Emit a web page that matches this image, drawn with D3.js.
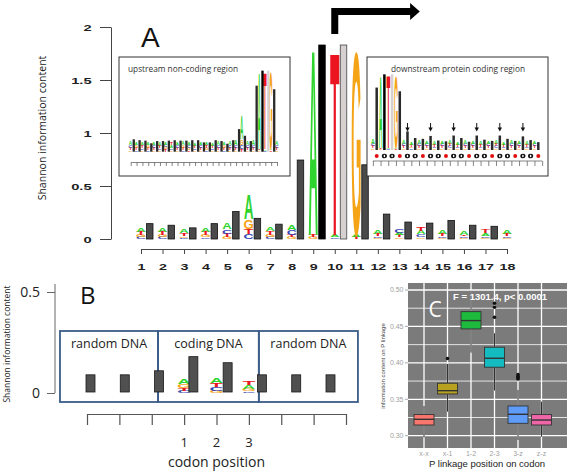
<!DOCTYPE html>
<html><head><meta charset="utf-8">
<script src="https://cdn.jsdelivr.net/npm/d3@7"></script>
<style>body{margin:0;background:#fff}svg{display:block}</style>
</head><body>
<svg id="chart" width="567" height="474"></svg>
<script>
// ================= DATA =================
// Panel A : main sequence logo around the start codon
const positionsA = ["1","2","3","4","5","6","7","8","9","10","11","12","13","14","15","16","17","18"];
const barsA = [0.145,0.13,0.105,0.145,0.26,0.195,0.14,0.745,1.83,1.83,0.70,0.235,0.16,0.15,0.175,0.13,0.12,null];
const logosA = [
  {A:.04,T:.03,G:.02,C:.018},
  {A:.04,T:.03,G:.02,C:.018},
  {A:.035,T:.025,G:.015,C:.014},
  {A:.035,T:.03,G:.02,C:.016},
  {A:.06,C:.04,T:.03,G:.02},
  {A:.24,G:.09,T:.05,C:.045},
  {A:.04,T:.03,G:.022,C:.02},
  {A:.05,C:.045,T:.022,G:.02},
  {A:1.79,G:.02,T:.02},
  {T:1.77,A:.02,C:.015},
  {G:1.76,A:.025,T:.02},
  {A:.03,T:.02,C:.015,G:.012},
  {C:.04,A:.025,T:.02,G:.015},
  {T:.035,A:.03,C:.028,G:.015},
  {A:.035,T:.02,C:.015,G:.012},
  {A:.03,T:.015,C:.014,G:.01},
  {T:.03,A:.028,C:.015,G:.01},
  {A:.035,T:.02,C:.015,G:.01}
];
const yTicksA = [0,0.5,1,1.5,2];
const yTickLabelsA = ["0","0.5","1","1.5","2"];

// Inset : upstream non-coding region
const barsUp = [0.28,0.26,0.25,0.19,0.24,0.24,0.25,0.26,0.25,0.25,0.26,0.26,0.21,0.21,0.26,0.24,0.18,0.26,0.51,0.36,0.24,1.49,1.83,1.83,1.41];
const logosUp = [
  {A:.08,T:.05,C:.05,G:.04},{A:.07,T:.05,G:.05,C:.04},{A:.07,T:.06,G:.04,C:.04},{A:.06,T:.05,G:.05,C:.04},
  {A:.07,T:.05,C:.05,G:.04},{A:.08,T:.05,G:.04,C:.04},{A:.07,T:.05,G:.05,C:.05},{A:.06,T:.06,G:.04,C:.04},
  {A:.07,T:.05,C:.05,G:.04},{A:.08,T:.05,G:.05,C:.04},{A:.07,G:.05,C:.05,T:.04},{A:.06,T:.05,G:.04,C:.04},
  {A:.07,T:.05,C:.05,G:.04},{A:.07,T:.06,G:.05,C:.04},{A:.06,T:.05,G:.04,C:.04},{A:.08,T:.05,C:.05,G:.04},
  {A:.07,T:.05,G:.05,C:.04},{A:.09,T:.05,C:.05,G:.04},{A:.12,C:.07,T:.05,G:.04},{A:.55,G:.12,C:.09,T:.07},
  {A:.09,T:.05,C:.05,G:.04},{A:.12,C:.06,T:.05,G:.04},{A:1.77,G:.03,T:.03},{T:1.78,A:.03,C:.02},
  {G:1.76,A:.04,T:.03},{A:.09,T:.05,C:.05,G:.04}
];

// Inset : downstream protein coding region
const barsDown = [1.51,1.83,1.83,1.42,0.45,0.29,0.27,0.34,0.23,0.21,0.35,0.29,0.20,0.35,0.25,0.22,0.35,0.27,0.22,0.33,0.24,0.19];
const logosDown = [
  {A:.13,T:.05,C:.05,G:.04},{A:1.78,G:.02,T:.02},{T:1.79,C:.02,A:.02},{G:1.77,A:.03,T:.02},
  {A:.08,C:.06,T:.05,G:.04},{A:.07,T:.05,C:.04,G:.04},{A:.08,T:.05,C:.05,G:.04},{A:.07,C:.06,T:.05,G:.04},
  {A:.08,T:.05,G:.04,C:.04},{A:.07,T:.05,C:.05,G:.04},{A:.08,C:.05,T:.05,G:.04},{A:.07,T:.05,G:.04,C:.04},
  {A:.08,T:.05,C:.05,G:.04},{A:.07,C:.06,T:.05,G:.04},{A:.08,T:.05,G:.04,C:.04},{A:.07,T:.05,C:.05,G:.04},
  {A:.08,C:.05,T:.05,G:.04},{A:.07,T:.05,G:.04,C:.04},{A:.08,T:.05,C:.05,G:.04},{A:.07,C:.06,T:.05,G:.04},
  {A:.08,T:.05,G:.04,C:.04},{A:.07,T:.05,C:.05,G:.04}
];
const frameDown = ["r","0","0","r","0","0","r","0","0","r","0","0","r","0","0","r","0","0","r","0","0","r"];
const arrowsDown = [5,8,11,14,17,20];

// Panel B : codon periodicity
const barsB = [0.09,0.09,0.11,0.18,0.15,0.09,0.09,0.09];
const regionsB = ["random DNA","coding DNA","random DNA"];
const regionEdgesB = [0.11,2.97,5.91,8.80];
const logosB = [
  {A:.025,G:.016,T:.015,C:.012},
  {A:.028,T:.02,C:.018,G:.012},
  {T:.022,A:.018,G:.012,C:.008}
];
const logoSlotsB = [4,5,6];
const codonLabelsB = ["1","2","3"];
const yTicksB = [0,0.5];
const yTickLabelsB = ["0","0.5"];

// Panel C : boxplots
const catsC = ["x-x","x-1","1-2","2-3","3-z","z-z"];
const loC  = [0.2978,0.333,0.414,0.362,0.294,0.2987];
const q1C  = [0.3147,0.3573,0.4466,0.394,0.317,0.3147];
const medC = [0.3225,0.3618,0.458,0.4063,0.3294,0.3215];
const q3C  = [0.329,0.372,0.4703,0.4214,0.3408,0.329];
const hiC  = [0.3408,0.3985,0.499,0.4407,0.3628,0.3467];
const outC = [[],[0.406],[],[0.4819,0.4764,0.4626],[0.3838,0.3815,0.3795,0.378],[]];
const yTicksC = [0.30,0.35,0.40,0.45,0.50];
const yTickLabelsC = ["0.30","0.35","0.40","0.45","0.50"];

// ================= DRAWING =================
const svg = d3.select("#chart");
const letterColor = {A:"#2fd42f", C:"#3444b0", G:"#f5a418", T:"#ea1520"};
const letterInk = {A:0.72, C:0.68, G:0.72, T:0.62};

function drawLogo(g, cx, w, y, stack) {
  const entries = Object.entries(stack).sort((a,b)=>a[1]-b[1]);
  let acc = 0;
  entries.forEach(([L,v]) => {
    const y0 = y(acc), y1 = y(acc+v);
    acc += v;
    const h = y0 - y1;
    if (h <= 0.05) return;
    g.append("text").text(L)
      .attr("font-family","Liberation Sans, Arial, sans-serif")
      .attr("font-weight","bold").attr("font-size",100)
      .attr("text-anchor","middle").attr("fill",letterColor[L])
      .attr("transform",`translate(${cx},${y0}) scale(${w/(letterInk[L]*100)},${h/71.6})`);
  });
}
function barStyle(stack) {
  const dom = Object.entries(stack).find(e => e[1] > 1);
  if (dom && dom[0] === "A") return {fill:"#000", stroke:"#000"};
  if (dom && dom[0] === "T") return {fill:"#d6d0d0", stroke:"#444"};
  return {fill:"#4a4a4a", stroke:"#111"};
}

// ---------- Panel A ----------
const xA = d3.scaleLinear().domain([1,18]).range([141,507]);
const yA = d3.scaleLinear().domain([0,2]).range([239,27]);
const gA = svg.append("g");

const yAxA = gA.append("g").attr("transform","translate(111,0)")
  .call(d3.axisLeft(yA).tickValues(yTicksA).tickFormat((d,i)=>yTickLabelsA[i]).tickSize(11).tickSizeOuter(0).tickPadding(1.5));
yAxA.selectAll("text").attr("font-family","Liberation Sans, Arial").attr("font-weight","bold")
  .attr("font-size",9.5).attr("fill","#222").attr("transform","scale(1.55,1)");
yAxA.selectAll("line,path").attr("stroke","#444");

const xAxA = gA.append("g").attr("transform","translate(0,249)")
  .call(d3.axisBottom(xA).tickValues(d3.range(1,19)).tickFormat((d,i)=>positionsA[i]).tickSize(5).tickSizeOuter(0).tickPadding(9));
xAxA.selectAll("text").attr("font-family","Liberation Sans, Arial").attr("font-weight","bold")
  .attr("font-size",9.5).attr("fill","#222").attr("transform","scale(1.5,1)");
xAxA.selectAll("line,path").attr("stroke","#444");

gA.append("text").text("Shannon information content")
  .attr("transform","translate(46,128) rotate(-90)").attr("text-anchor","middle")
  .attr("font-family","Open Sans").attr("font-size",10.5).attr("fill","#222");
gA.append("text").text("A").attr("x",141).attr("y",47)
  .attr("font-family","Liberation Sans, Arial").attr("font-size",28).attr("fill","#111");

// logos and bars
logosA.forEach((s,i) => drawLogo(gA, xA(i+1), 9.5, yA, s));
barsA.forEach((v,i) => {
  if (v == null) return;
  const st = barStyle(logosA[i]);
  gA.append("rect").attr("x", xA(i+1)+5.5).attr("width",6.5)
    .attr("y", yA(v)).attr("height", yA(0)-yA(v))
    .attr("fill", st.fill).attr("stroke", st.stroke).attr("stroke-width",0.8);
});

// start arrow
{
  const sx = xA(10);
  const p = d3.path();
  p.moveTo(sx-3.5, yA(1.83)-11); p.lineTo(sx-3.5, 8); p.lineTo(xA(13.5), 8); p.lineTo(xA(13.5), 3);
  p.lineTo(xA(13.95), 11.5); p.lineTo(xA(13.5), 20); p.lineTo(xA(13.5), 15); p.lineTo(sx+3.5, 15);
  p.lineTo(sx+3.5, yA(1.83)-11); p.closePath();
  gA.append("path").attr("d", p.toString()).attr("fill","#000");
}

// ---------- Inset upstream ----------
const gUp = svg.append("g");
gUp.append("rect").attr("x",119).attr("y",57).attr("width",171).attr("height",119)
  .attr("fill","#fff").attr("stroke","#333").attr("stroke-width",1);
gUp.append("text").text("upstream non-coding region").attr("x",128).attr("y",72)
  .attr("font-family","Open Sans").attr("font-size",8.3).attr("fill","#333");
const xUp = d3.scaleLinear().domain([1,26]).range([130.7,277]);
const yUp = d3.scaleLinear().domain([0,2]).range([151.7,63.1]);
logosUp.forEach((s,i) => drawLogo(gUp, xUp(i+1)-0.3, 3.4, yUp, s));
barsUp.forEach((v,i) => {
  const st = barStyle(logosUp[i]);
  gUp.append("rect").attr("x", xUp(i+1)+1.9).attr("width",2.3)
    .attr("y", yUp(v)).attr("height", yUp(0)-yUp(v)).attr("fill", st.fill === "#4a4a4a" ? "#2a2a2a" : st.fill);
});
const axUp = gUp.append("g").attr("transform","translate(0,162)")
  .call(d3.axisBottom(xUp).tickValues(d3.range(1,27)).tickFormat("").tickSize(4).tickSizeOuter(0));
axUp.selectAll("line,path").attr("stroke","#666").attr("stroke-width",0.8);

// ---------- Inset downstream ----------
const gDn = svg.append("g");
gDn.append("rect").attr("x",367).attr("y",57).attr("width",181).attr("height",119)
  .attr("fill","#fff").attr("stroke","#333").attr("stroke-width",1);
gDn.append("text").text("downstream protein coding region").attr("x",458).attr("y",72)
  .attr("text-anchor","middle")
  .attr("font-family","Open Sans").attr("font-size",8.3).attr("fill","#333");
const xDn = d3.scaleLinear().domain([1,22]).range([376.7,538.3]);
const yDn = d3.scaleLinear().domain([0,2]).range([150,67.3]);
logosDown.forEach((s,i) => drawLogo(gDn, xDn(i+1)-3.8, 3.8, yDn, s));
barsDown.forEach((v,i) => {
  const st = barStyle(logosDown[i]);
  gDn.append("rect").attr("x", xDn(i+1)-1.25).attr("width",2.5)
    .attr("y", yDn(v)).attr("height", yDn(0)-yDn(v)).attr("fill", st.fill === "#4a4a4a" ? "#2a2a2a" : st.fill);
});
frameDown.forEach((f,i) => {
  const cx = xDn(i+1);
  if (f === "r") {
    gDn.append("circle").attr("cx",cx).attr("cy",156).attr("r",2).attr("fill","#e01010");
  } else {
    gDn.append("ellipse").attr("cx",cx).attr("cy",156).attr("rx",2.6).attr("ry",2.3).attr("fill","#111");
    gDn.append("ellipse").attr("cx",cx).attr("cy",156).attr("rx",0.8).attr("ry",1.2).attr("fill","#fff");
  }
});
arrowsDown.forEach(p => {
  const cx = xDn(p);
  gDn.append("line").attr("x1",cx).attr("x2",cx).attr("y1",123).attr("y2",128).attr("stroke","#111").attr("stroke-width",1);
  gDn.append("path").attr("d",`M${cx-2.2},127.5L${cx+2.2},127.5L${cx},131.5Z`).attr("fill","#111");
});
const axDn = gDn.append("g").attr("transform","translate(0,161)")
  .call(d3.axisBottom(xDn).tickValues(d3.range(0.5,23,1)).tickFormat("").tickSize(5).tickSizeOuter(0));
axDn.select("path").attr("d",`M${xDn(0.5)},0H${xDn(22.5)}`);
axDn.selectAll("line,path").attr("stroke","#666").attr("stroke-width",0.8);

// ---------- Panel B ----------
const gB = svg.append("g");
const xBar = d3.scaleLinear().domain([1,8]).range([90.5,330.5]);
const xTickB = d3.scaleLinear().domain([1,9]).range([87,346]);
const yB = d3.scaleLinear().domain([0,0.5]).range([393,292]);

const yAxB = gB.append("g").attr("transform","translate(55,0)")
  .call(d3.axisLeft(yB).tickValues(yTicksB).tickFormat((d,i)=>yTickLabelsB[i]).tickSize(8).tickSizeOuter(0).tickPadding(7));
yAxB.select("path").attr("d","M0,284V393");
yAxB.selectAll("line,path").attr("stroke","#666");
yAxB.selectAll("text").attr("font-family","Open Sans").attr("font-size",14).attr("fill","#222");
gB.append("text").text("Shannon information content")
  .attr("transform","translate(10,344) rotate(-90)").attr("text-anchor","middle")
  .attr("font-family","Open Sans").attr("font-size",8.5).attr("fill","#222");
gB.append("text").text("B").attr("x",80).attr("y",304)
  .attr("font-family","Open Sans").attr("font-size",24).attr("fill","#111");

regionsB.forEach((r,i) => {
  const x0 = xBar(regionEdgesB[i]), x1 = xBar(regionEdgesB[i+1]);
  gB.append("rect").attr("x",x0).attr("y",331).attr("width",x1-x0).attr("height",71)
    .attr("fill","none").attr("stroke","#3b5d88").attr("stroke-width",1.8);
  gB.append("text").text(r).attr("x",(x0+x1)/2).attr("y",348).attr("text-anchor","middle")
    .attr("font-family","Open Sans").attr("font-size",12.5).attr("fill","#222");
});
logosB.forEach((s,i) => drawLogo(gB, xTickB(logoSlotsB[i]), 13, yB, s));
barsB.forEach((v,i) => {
  gB.append("rect").attr("x", xBar(i+1)-4.5).attr("width",9)
    .attr("y", yB(v)).attr("height", yB(0)-1-yB(v))
    .attr("fill","#505050").attr("stroke","#1a1a1a").attr("stroke-width",0.8);
});
const xAxB = gB.append("g").attr("transform","translate(0,414)")
  .call(d3.axisBottom(xTickB).tickValues(d3.range(1,10)).tickFormat("").tickSize(11).tickSizeOuter(0));
xAxB.selectAll("line,path").attr("stroke","#555").attr("stroke-width",1.2);
codonLabelsB.forEach((t,i) => {
  gB.append("text").text(t).attr("x", xTickB(logoSlotsB[i])).attr("y",447).attr("text-anchor","middle")
    .attr("font-family","Open Sans").attr("font-size",13).attr("fill","#222");
});
gB.append("text").text("codon position").attr("x", xTickB(5)).attr("y",467).attr("text-anchor","middle")
  .attr("font-family","Open Sans").attr("font-size",14).attr("fill","#222");

// ---------- Panel C ----------
const gC = svg.append("g");
const xC = d3.scaleBand().domain(catsC).range([412.25,553.25]);
const yC = d3.scaleLinear().domain([0.30,0.50]).range([435.7,290]);
const colorsC = ["#f8766d","#b8a11e","#1dba3e","#14bcc2","#5e9cf8","#ee65a8"];
gC.append("rect").attr("x",408).attr("y",283).attr("width",159).attr("height",165).attr("fill","#7b7b7b");
d3.range(0.30,0.5001,0.025).forEach(v => {
  gC.append("line").attr("x1",408).attr("x2",567).attr("y1",yC(v)).attr("y2",yC(v))
    .attr("stroke","#fff").attr("stroke-width", Math.abs((v*20)-Math.round(v*20))<1e-6 ? 1.3 : 0.8);
});
catsC.forEach(c => {
  const cx = xC(c)+xC.bandwidth()/2;
  gC.append("line").attr("x1",cx).attr("x2",cx).attr("y1",283).attr("y2",448).attr("stroke","#fff").attr("stroke-width",1.3);
});
catsC.forEach((c,i) => {
  const cx = xC(c)+xC.bandwidth()/2, bw = 20;
  gC.append("line").attr("x1",cx).attr("x2",cx).attr("y1",yC(hiC[i])).attr("y2",yC(q3C[i])).attr("stroke","#333").attr("stroke-width",1);
  gC.append("line").attr("x1",cx).attr("x2",cx).attr("y1",yC(q1C[i])).attr("y2",yC(loC[i])).attr("stroke","#333").attr("stroke-width",1);
  gC.append("rect").attr("x",cx-bw/2).attr("width",bw).attr("y",yC(q3C[i])).attr("height",yC(q1C[i])-yC(q3C[i]))
    .attr("fill",colorsC[i]).attr("stroke","#333").attr("stroke-width",0.9);
  gC.append("line").attr("x1",cx-bw/2).attr("x2",cx+bw/2).attr("y1",yC(medC[i])).attr("y2",yC(medC[i])).attr("stroke","#333").attr("stroke-width",1.4);
  outC[i].forEach(o => gC.append("circle").attr("cx",cx).attr("cy",yC(o)).attr("r",1.8).attr("fill","#111"));
});
yTicksC.forEach((v,i) => {
  gC.append("line").attr("x1",405).attr("x2",408).attr("y1",yC(v)).attr("y2",yC(v)).attr("stroke","#aaa");
  gC.append("text").text(yTickLabelsC[i]).attr("x",403.5).attr("y",yC(v)).attr("dy","0.35em").attr("text-anchor","end")
    .attr("font-family","Liberation Sans, Arial").attr("font-size",7).attr("fill","#a0a0a0");
});
catsC.forEach(c => {
  const cx = xC(c)+xC.bandwidth()/2;
  gC.append("text").text(c).attr("x",cx).attr("y",456).attr("text-anchor","middle")
    .attr("font-family","Liberation Sans, Arial").attr("font-size",7).attr("fill","#a0a0a0");
});
gC.append("text").text("P linkage position on codon").attr("x",487).attr("y",467).attr("text-anchor","middle")
  .attr("font-family","Liberation Sans, Arial").attr("font-size",9.5).attr("fill","#222");
gC.append("text").text("information content on P linkage")
  .attr("transform","translate(385,366) rotate(-90)").attr("text-anchor","middle")
  .attr("font-family","Liberation Sans, Arial").attr("font-size",6).attr("fill","#444");
gC.append("text").text("F = 1301.4, p< 0.0001").attr("x",453).attr("y",300)
  .attr("font-family","Liberation Sans, Arial").attr("font-weight","bold").attr("font-size",9.5).attr("fill","#fff");
gC.append("text").text("C").attr("x",435).attr("y",317).attr("text-anchor","middle")
  .attr("font-family","Open Sans").attr("font-size",21).attr("fill","#fff");
</script>
</body></html>
